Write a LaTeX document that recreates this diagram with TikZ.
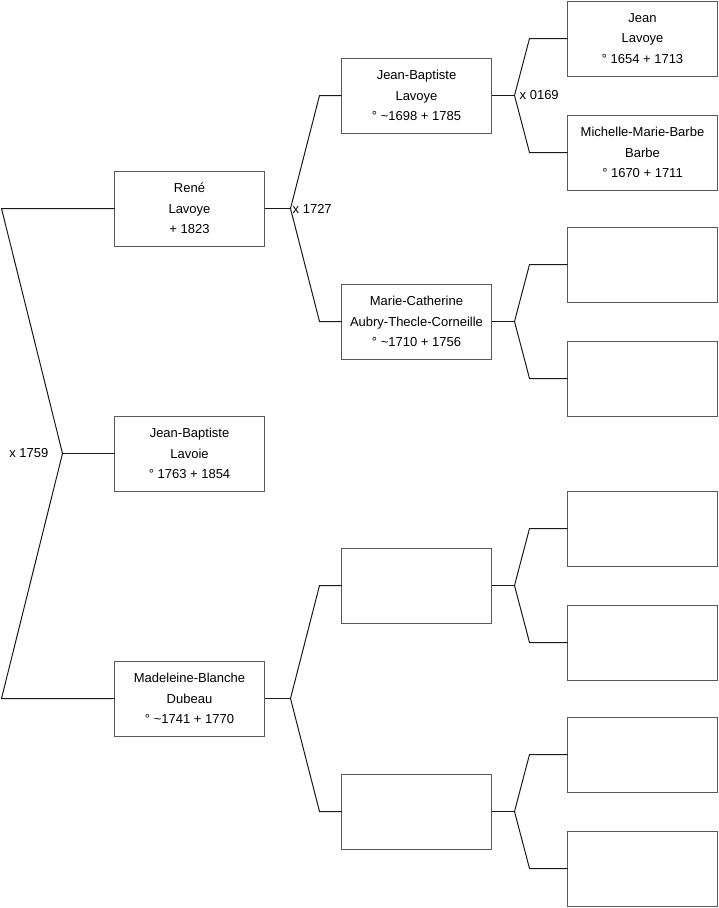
\documentclass[tikz,border=0pt]{standalone}
\usepackage{fontspec}
\setmainfont{Liberation Sans}
\usepackage{tikz}
\usetikzlibrary{positioning}
\tikzset{
	person/.style={rectangle, draw=black!65, line width=1pt, outer sep=0pt, minimum width=150pt, minimum height=75pt, align=center, inner sep=2pt},
	link/.style  ={draw=black!90, line width=1pt},
	union/.style ={inner sep=1pt},
}

\begin{document}
\begin{tikzpicture}[x=1pt, y=-1pt, font=\fontsize{13}{20.5}\selectfont]
	\useasboundingbox (0,0) rectangle (719,908);
	% generation 1
	\node[person] (jbl) at (189.5,453.5) {Jean-Baptiste\\Lavoie\\° 1763 + 1854};
	\node[person, above=170pt of jbl] (rene) {René\\Lavoye\\+ 1823};
	\node[person, below=170pt of jbl] (mad) {Madeleine-Blanche\\Dubeau\\° \textasciitilde1741 + 1770};
	% generation 2
	\node[person, right=77pt of rene, yshift=113pt] (jbv) {Jean-Baptiste\\Lavoye\\° \textasciitilde1698 + 1785};
	\node[person, right=77pt of rene, yshift=-113pt] (mc) {Marie-Catherine\\Aubry-Thecle-Corneille\\° \textasciitilde1710 + 1756};
	\node[person, right=77pt of mad, yshift=113pt] (e1) {};
	\node[person, right=77pt of mad, yshift=-113pt] (e2) {};
	% generation 3
	\node[person, right=76pt of jbv, yshift=57pt] (jean) {Jean\\Lavoye\\° 1654 + 1713};
	\node[person, right=76pt of jbv, yshift=-57pt] (mmb) {Michelle-Marie-Barbe\\Barbe\\° 1670 + 1711};
	\node[person, right=76pt of mc, yshift=57pt] (f1) {};
	\node[person, right=76pt of mc, yshift=-57pt] (f2) {};
	\node[person, right=76pt of e1, yshift=57pt] (f3) {};
	\node[person, right=76pt of e1, yshift=-57pt] (f4) {};
	\node[person, right=76pt of e2, yshift=57pt] (f5) {};
	\node[person, right=76pt of e2, yshift=-57pt] (f6) {};
	% unions
	\coordinate[left=52pt of jbl.west] (m0);
	\draw[link] (rene.west) -- ++(-113,0) -- (m0) -- ([xshift=-113pt]mad.west) -- (mad.west);
	\draw[link] (m0) -- (jbl.west);
	\node[union, left=13pt of m0] {x 1759};
	\draw[link] (rene.east) -- ++(26,0) coordinate (m1);
	\draw[link] (jbv.west) -- ++(-22,0) -- (m1) -- ([xshift=-22pt]mc.west) -- (mc.west);
	\node[union, right=1pt of m1] {x 1727};
	\draw[link] (mad.east) -- ++(26,0) coordinate (m2);
	\draw[link] (e1.west) -- ++(-22,0) -- (m2) -- ([xshift=-22pt]e2.west) -- (e2.west);
	\draw[link] (jbv.east) -- ++(23,0) coordinate (m3);
	\draw[link] (jean.west) -- ++(-38,0) -- (m3) -- ([xshift=-38pt]mmb.west) -- (mmb.west);
	\node[union, right=4pt of m3] {x 0169};
	\draw[link] (mc.east) -- ++(23,0) coordinate (m4);
	\draw[link] (f1.west) -- ++(-38,0) -- (m4) -- ([xshift=-38pt]f2.west) -- (f2.west);
	\draw[link] (e1.east) -- ++(23,0) coordinate (m5);
	\draw[link] (f3.west) -- ++(-38,0) -- (m5) -- ([xshift=-38pt]f4.west) -- (f4.west);
	\draw[link] (e2.east) -- ++(23,0) coordinate (m6);
	\draw[link] (f5.west) -- ++(-38,0) -- (m6) -- ([xshift=-38pt]f6.west) -- (f6.west);
\end{tikzpicture}
\end{document}
